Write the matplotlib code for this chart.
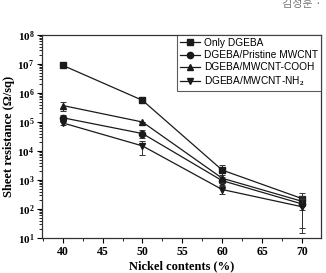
import matplotlib
matplotlib.use("Agg")
import matplotlib.pyplot as plt
from matplotlib.ticker import LogLocator, MultipleLocator, NullFormatter

plt.rcParams["mathtext.fontset"] = "custom"
plt.rcParams["mathtext.rm"] = "Liberation Serif:bold"
plt.rcParams["mathtext.it"] = "Liberation Serif:bold"
plt.rcParams["mathtext.bf"] = "Liberation Serif:bold"

nickel = [40, 50, 60, 70]
series_names = ["Only DGEBA", "DGEBA/Pristine MWCNT", "DGEBA/MWCNT-COOH", "DGEBA/MWCNT-NH$_2$"]
only_dgeba = [9.0e6, 5.6e5, 2.2e3, 230]
only_dgeba_err = [0, 0, 1.1e3, 140]
pristine = [1.4e5, 4.0e4, 950, 150]
pristine_err = [4.0e4, 1.3e4, 300, 128]
cooh = [3.7e5, 1.0e5, 1.15e3, 185]
cooh_err = [1.3e5, 0, 350, 60]
nh2 = [9.3e4, 1.5e4, 470, 120]
nh2_err = [1.2e4, 7.5e3, 150, 105]
x_ticks = [40, 45, 50, 55, 60, 65, 70]
y_exponents = [1, 2, 3, 4, 5, 6, 7, 8]

fig = plt.figure(figsize=(3.26, 2.73), dpi=100)
ax = fig.add_axes([42/326, 35/273, 279/326, 203/273])

markers = ["s", "o", "^", "v"]
data = [(only_dgeba, only_dgeba_err), (pristine, pristine_err), (cooh, cooh_err), (nh2, nh2_err)]
handles = []
for (vals, errs), m, name in zip(data, markers, series_names):
    ax.errorbar(nickel, vals, yerr=errs, fmt="none", ecolor="#333333",
                elinewidth=0.7, capsize=2.5, capthick=0.7)
    ln, = ax.plot(nickel, vals, marker=m, markersize=4.5, color="#1a1a1a",
                  linewidth=0.9, label=name)
    handles.append(ln)

ax.set_yscale("log")
ax.set_ylim(1e1, 1e8)
ax.set_xlim(37.4, 72.4)
ax.set_xticks(x_ticks)
ax.xaxis.set_minor_locator(MultipleLocator(2.5))
ax.set_yticks([10.0**k for k in y_exponents])
ax.set_yticklabels([r"$\mathbf{10^{%d}}$" % k for k in y_exponents])
ax.yaxis.set_minor_locator(LogLocator(base=10, subs=range(2, 10), numticks=20))
ax.yaxis.set_minor_formatter(NullFormatter())

ax.tick_params(axis="both", which="major", direction="out", length=3.5, width=0.8,
               pad=2, top=False, right=False)
ax.tick_params(axis="both", which="minor", direction="out", length=2, width=0.6,
               top=False, right=False)
for lab in ax.get_xticklabels():
    lab.set_fontfamily("Liberation Serif")
    lab.set_fontweight("bold")
    lab.set_fontsize(8.5)
for lab in ax.get_yticklabels():
    lab.set_fontsize(8)

for s in ax.spines.values():
    s.set_linewidth(0.9)
    s.set_color("#333333")

ax.set_xlabel("Nickel contents (%)", fontfamily="Liberation Serif", fontweight="bold",
              fontsize=9, labelpad=2)
ax.set_ylabel("Sheet resistance (Ω/sq)", fontfamily="Liberation Serif", fontweight="bold",
              fontsize=9, labelpad=2)

leg = ax.legend(handles=handles, loc="upper right", borderaxespad=0.0, frameon=True,
                fancybox=False, prop={"family": "Liberation Sans", "size": 7.3},
                handlelength=2.0, handletextpad=0.4, labelspacing=0.2, borderpad=0.3)
leg.get_frame().set_edgecolor("#333333")
leg.get_frame().set_linewidth(0.8)

fig.text(0.985, 0.985, "김정훈 ·", fontfamily=["Noto Sans CJK KR", "DejaVu Sans"],
         fontsize=8, color="#777777", ha="right", va="center")

fig.savefig("out.png", dpi=100)
